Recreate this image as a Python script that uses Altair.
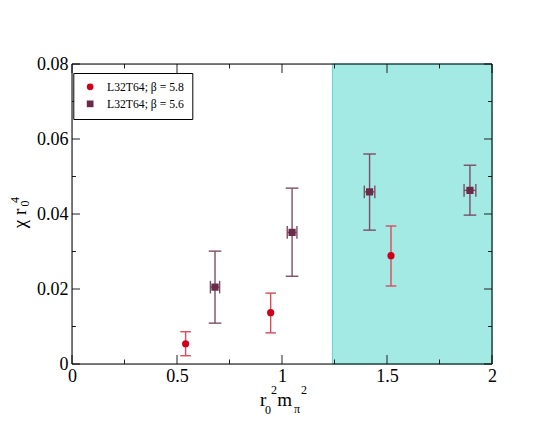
import altair as alt
import pandas as pd

# ---------------- data ----------------
series_names = ["L32T64; β = 5.8", "L32T64; β = 5.6"]

red_x = [0.541, 0.946, 1.519]
red_y = [0.0054, 0.0137, 0.0289]
red_ylo = [0.0022, 0.0083, 0.0208]
red_yhi = [0.0086, 0.0189, 0.0368]

pur_x = [0.681, 1.048, 1.417, 1.895]
pur_y = [0.0205, 0.0351, 0.0459, 0.0463]
pur_ylo = [0.0109, 0.0234, 0.0357, 0.0397]
pur_yhi = [0.0301, 0.0469, 0.0560, 0.0530]
pur_xerr = [0.022, 0.023, 0.025, 0.028]

region_x = [1.24, 2.0]

x_major = [0, 0.5, 1, 1.5, 2]
x_minor = [0.25, 0.75, 1.25, 1.75]
y_major = [0, 0.02, 0.04, 0.06, 0.08]
y_minor = [0.01, 0.03, 0.05, 0.07]

# ---------------- styles ----------------
RED = "#d0001c"
PUR = "#6a2a4a"
RED_BAR = "#dc4a5c"
PUR_BAR = "#7d4d66"
SERIF = "'Liberation Serif', 'Times New Roman', Times, serif"
W, H = 420, 300

red_df = pd.DataFrame({"x": red_x, "y": red_y, "ylo": red_ylo, "yhi": red_yhi,
                       "s": series_names[0]})
pur_df = pd.DataFrame({"x": pur_x, "y": pur_y, "ylo": pur_ylo, "yhi": pur_yhi,
                       "s": series_names[1]})
pur_df["xlo"] = [a - e for a, e in zip(pur_x, pur_xerr)]
pur_df["xhi"] = [a + e for a, e in zip(pur_x, pur_xerr)]
pts_df = pd.concat([red_df, pur_df[["x", "y", "ylo", "yhi", "s"]]], ignore_index=True)

xscale = alt.Scale(domain=[0, 2], nice=False, zero=False)
yscale = alt.Scale(domain=[0, 0.08], nice=False, zero=False)

xaxis = alt.Axis(values=x_major, labelExpr="'' + datum.value", title=None, grid=False,
                 domain=False, ticks=False, labelFont=SERIF, labelFontSize=18,
                 labelColor="black", labelPadding=3, labelFlush=False, labelOverlap=False)
yaxis = alt.Axis(values=y_major, labelExpr="datum.value == 0 ? '0' : '' + datum.value",
                 title=None, grid=False, domain=False, ticks=False, labelFont=SERIF,
                 labelFontSize=18, labelColor="black", labelPadding=4, labelFlush=False,
                 labelOverlap=False)


def X(field):
    return alt.X(field, type="quantitative", scale=xscale, axis=xaxis)


def Y(field):
    return alt.Y(field, type="quantitative", scale=yscale, axis=yaxis)


layers = []

# shaded region
region = alt.Chart(pd.DataFrame({"a": [region_x[0]], "b": [region_x[1]]})).mark_rect(
    fill="#a2eae3", stroke="#5fd3ca", strokeWidth=1
).encode(x=X("a"), x2="b", y=alt.value(0), y2=alt.value(H))
layers.append(region)

# ticks (inside, on all four sides)
xM = pd.DataFrame({"v": x_major})
xm = pd.DataFrame({"v": x_minor})
yM = pd.DataFrame({"v": y_major})
ym = pd.DataFrame({"v": y_minor})
tick_style = dict(color="#222222", strokeWidth=1)
for df, ln in ((xM, 9), (xm, 4.5)):
    layers.append(alt.Chart(df).mark_rule(**tick_style).encode(
        x=X("v"), y=alt.value(H), y2=alt.value(H - ln)))
    layers.append(alt.Chart(df).mark_rule(**tick_style).encode(
        x=X("v"), y=alt.value(0), y2=alt.value(ln)))
for df, ln in ((yM, 8), (ym, 4)):
    layers.append(alt.Chart(df).mark_rule(**tick_style).encode(
        y=Y("v"), x=alt.value(0), x2=alt.value(ln)))
    layers.append(alt.Chart(df).mark_rule(**tick_style).encode(
        y=Y("v"), x=alt.value(W), x2=alt.value(W - ln)))

# error bars: red
layers.append(alt.Chart(red_df).mark_rule(color=RED_BAR, strokeWidth=1.4).encode(
    x=X("x"), y=Y("ylo"), y2="yhi"))
for f in ("ylo", "yhi"):
    layers.append(alt.Chart(red_df).mark_rule(color=RED_BAR, strokeWidth=1.4,
                                              xOffset=-5.3, x2Offset=5.3).encode(
        x=X("x"), x2="x", y=Y(f)))

# error bars: purple
layers.append(alt.Chart(pur_df).mark_rule(color=PUR_BAR, strokeWidth=1.4).encode(
    x=X("x"), y=Y("ylo"), y2="yhi"))
for f in ("ylo", "yhi"):
    layers.append(alt.Chart(pur_df).mark_rule(color=PUR_BAR, strokeWidth=1.4,
                                              xOffset=-6.3, x2Offset=6.3).encode(
        x=X("x"), x2="x", y=Y(f)))
layers.append(alt.Chart(pur_df).mark_rule(color=PUR_BAR, strokeWidth=1.4).encode(
    x=X("xlo"), x2="xhi", y=Y("y")))
for f in ("xlo", "xhi"):
    layers.append(alt.Chart(pur_df).mark_rule(color=PUR_BAR, strokeWidth=1.4,
                                              yOffset=-6.3, y2Offset=6.3).encode(
        x=X(f), y=Y("y"), y2="y"))

# points with legend
leg = alt.Legend(orient="none", legendX=1.3, legendY=9, title=None,
                 strokeColor="black", fillColor="white", padding=8,
                 labelFont=SERIF, labelFontSize=11.7, labelColor="black",
                 symbolSize=45, symbolStrokeWidth=0, rowPadding=4,
                 labelOffset=11, symbolOffset=3)
points = alt.Chart(pts_df).mark_point(filled=True, opacity=1, size=52).encode(
    x=X("x"), y=Y("y"),
    color=alt.Color("s:N", scale=alt.Scale(domain=series_names, range=[RED, PUR]), legend=leg),
    shape=alt.Shape("s:N", scale=alt.Scale(domain=series_names, range=["circle", "square"]),
                    legend=leg),
)
layers.append(points)

# frame
frame = alt.Chart(pd.DataFrame({"k": [0]})).mark_rect(
    filled=False, stroke="black", strokeWidth=1
).encode(x=alt.value(0), x2=alt.value(W), y=alt.value(0), y2=alt.value(H))
layers.append(frame)


def label(txt, x, y, size, angle=0, align="left"):
    return alt.Chart(pd.DataFrame({"t": [txt]})).mark_text(
        font=SERIF, fontSize=size, color="black", align=align, baseline="alphabetic",
        angle=angle
    ).encode(text="t:N", x=alt.value(x), y=alt.value(y))


# x title: r0^2 m_pi^2
layers += [
    label("r", 188, 341.7, 19),
    label("0", 193, 350, 12),
    label("2", 199, 330.3, 12),
    label("m", 205.3, 341.7, 19),
    label("π", 222, 348.7, 12),
    label("2", 229, 330.3, 12),
]
# y title: chi r0^4
layers += [
    label("χ r", -46.5, 154.5, 19, angle=270, align="center"),
    label("0", -43.5, 139.5, 12, angle=270, align="center"),
    label("4", -53.5, 136, 12, angle=270, align="center"),
]

chart = alt.layer(*layers).properties(
    width=W, height=H,
    autosize=alt.AutoSizeParams(type="none"),
    padding={"left": 64, "top": 56, "right": 46, "bottom": 60},
).configure_view(strokeWidth=0).configure(background="white", font=SERIF).configure_axis(
    labelFont=SERIF, labelFontSize=18, labelColor="black"
).configure_text(font=SERIF).configure_legend(labelFont=SERIF)

chart.save("out.html", embed_options={"renderer": "svg", "actions": False})
